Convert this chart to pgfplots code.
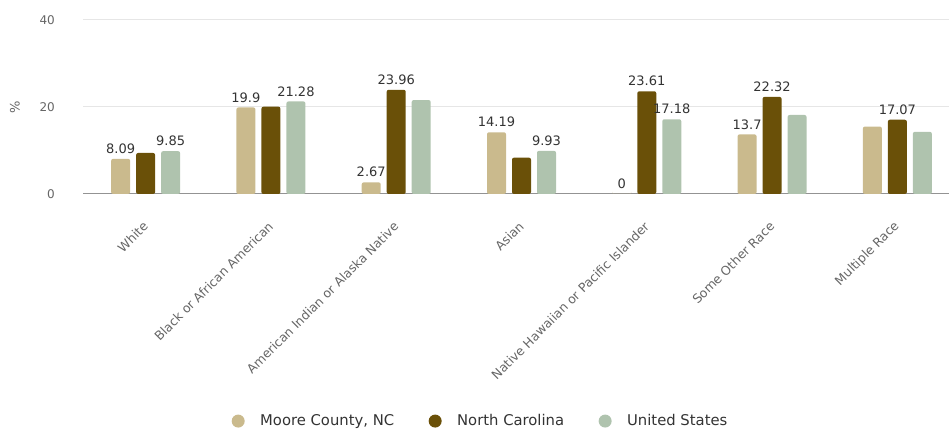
\documentclass[border=0pt]{standalone}
\usepackage{pgfplots}
\pgfplotsset{compat=1.18}
\usepackage{fontspec}
\setmainfont{DejaVu Sans}
\definecolor{moore}{HTML}{CABA8D}
\definecolor{ncar}{HTML}{6A5008}
\definecolor{usa}{HTML}{AFC3AE}
\definecolor{gridc}{HTML}{E6E6E6}
\definecolor{txt}{HTML}{333333}
\definecolor{lbl}{HTML}{666666}
\begin{document}
\begin{tikzpicture}
\path[use as bounding box] (0pt,0pt) rectangle (949pt,430pt);
\begin{axis}[
  at={(83pt,236pt)}, anchor=south west,
  scale only axis, width=877pt, height=174pt,
  xmin=-0.5, xmax=6.5, ymin=0, ymax=40,
  clip=false,
  ybar=6pt, bar width=19pt,
  separate axis lines,
  axis x line*=bottom, axis y line*=left,
  x axis line style={draw=gray!85, line width=1pt},
  y axis line style={draw=none},
  major tick length=0pt,
  ytick={0,20,40},
  ymajorgrids, grid style={gridc, line width=1pt},
  xtick={0,1,2,3,4,5,6},
  xticklabels={White, Black or African American, American Indian or Alaska Native, Asian, Native Hawaiian or Pacific Islander, Some Other Race, Multiple Race},
  xticklabel style={font=\fontsize{12.5}{14}\selectfont, text=lbl, xshift=0pt, yshift=-30pt, rotate=45, anchor=east, inner sep=0pt},
  /pgf/number format/assume math mode=true,
  yticklabel style={font=\fontsize{12}{14}\selectfont, text=lbl, anchor=east, inner sep=0pt, xshift=-28pt},
  ylabel={\%},
  every axis y label/.style={at={(rel axis cs:0,0.5)}, xshift=-68pt, rotate=90, anchor=center, font=\fontsize{13}{15}\selectfont, text=lbl},
  point meta=explicit symbolic,
  nodes near coords={\pgfplotspointmeta},
  every node near coord/.append style={font=\fontsize{13}{15}\selectfont, text=txt, inner sep=0pt, anchor=south, yshift=5pt},
  legend columns=3,
  legend image code/.code={\fill[draw=none] (0pt,0pt) circle (6.5pt); \path (-7pt,0pt) (20pt,0pt);},
  legend style={at={(0.453,-1.305)}, anchor=center, draw=none, fill=none, font=\fontsize{14.8}{17}\selectfont, text=txt, /tikz/every even column/.append style={column sep=32pt}},
  legend cell align=left,
]
\addplot[fill=moore, draw=none, rounded corners=2pt] coordinates {(0,8.09)[8.09] (1,19.9)[19.9] (2,2.67)[2.67] (3,14.19)[14.19] (4,0)[0] (5,13.7)[13.7] (6,15.5)[]};
\addplot[fill=ncar, draw=none, rounded corners=2pt] coordinates {(0,9.43)[] (1,20.07)[] (2,23.96)[23.96] (3,8.35)[] (4,23.61)[23.61] (5,22.32)[22.32] (6,17.07)[17.07]};
\addplot[fill=usa, draw=none, rounded corners=2pt] coordinates {(0,9.85)[9.85] (1,21.28)[21.28] (2,21.6)[] (3,9.93)[9.93] (4,17.18)[17.18] (5,18.16)[] (6,14.3)[]};
\legend{Moore County{,} NC, North Carolina, United States}
\end{axis}
\end{tikzpicture}
\end{document}
